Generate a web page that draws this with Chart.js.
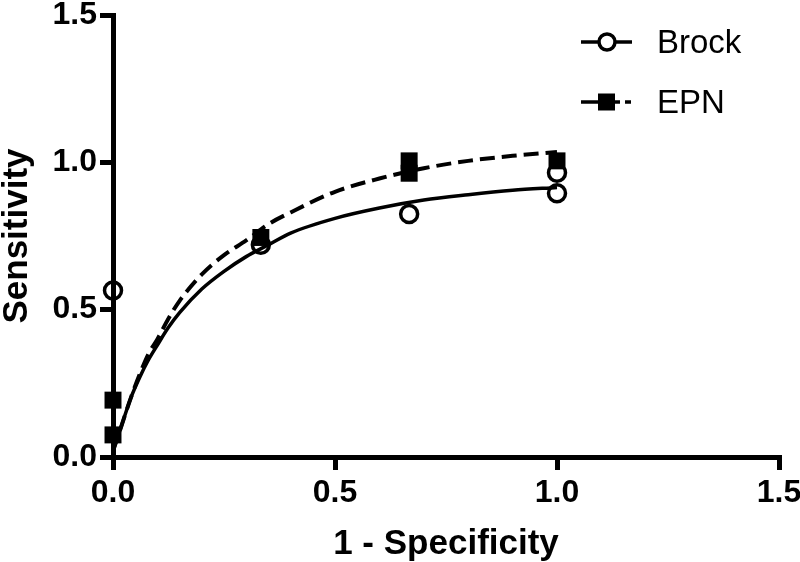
<!DOCTYPE html>
<html>
<head>
<meta charset="utf-8">
<script src="https://cdn.jsdelivr.net/npm/chart.js@4.4.0/dist/chart.umd.min.js"></script>
<style>
  html, body { margin: 0; padding: 0; background: #fff; }
  #wrap { width: 800px; height: 562px; }
</style>
</head>
<body>
<div id="wrap"><canvas id="c" width="800" height="562"></canvas></div>
<script>
// ---- data ----
const xTicks = [0.0, 0.5, 1.0, 1.5];
const yTicks = [0.0, 0.5, 1.0, 1.5];

const brockX = [0, 0.333, 0.667, 1.0, 1.0];
const brockY = [0.565, 0.72, 0.825, 0.895, 0.965];

const epnX = [0, 0, 0.333, 0.667, 0.667, 1.0];
const epnY = [0.075, 0.193, 0.745, 0.963, 1.005, 1.005];

// fitted curves
const fitX      = [0, 0.02, 0.04, 0.06, 0.08, 0.10, 0.125, 0.15, 0.20, 0.25, 0.30, 0.35, 0.40, 0.50, 0.60, 0.70, 0.80, 0.90, 1.00];
const brockFitY = [0.02, 0.11, 0.20, 0.27, 0.33, 0.38, 0.44, 0.49, 0.57, 0.63, 0.68, 0.72, 0.76, 0.81, 0.845, 0.872, 0.89, 0.905, 0.915];
const epnFitY   = [0.02, 0.11, 0.20, 0.28, 0.35, 0.40, 0.47, 0.53, 0.62, 0.685, 0.735, 0.79, 0.83, 0.90, 0.945, 0.98, 1.005, 1.022, 1.035];

const seriesNames = ['Brock', 'EPN'];
const xTitle = '1 - Specificity';
const yTitle = 'Sensitivity';

const FONT = "'Liberation Sans', Arial, Helvetica, sans-serif";
const toPts = (xs, ys) => xs.map((x, i) => ({ x: x, y: ys[i] }));

const legendPlugin = {
  id: 'customLegend',
  afterDraw(chart) {
    const ctx = chart.ctx;
    const items = [
      { label: seriesNames[0], y: 42, style: 'circle' },
      { label: seriesNames[1], y: 102, style: 'rect' }
    ];
    ctx.save();
    items.forEach(it => {
      ctx.strokeStyle = '#000';
      ctx.fillStyle = '#000';
      ctx.lineWidth = 3.5;
      ctx.beginPath();
      if (it.style === 'circle') {
        ctx.moveTo(581, it.y); ctx.lineTo(632, it.y);
      } else {
        ctx.moveTo(581, it.y); ctx.lineTo(598, it.y);
        ctx.moveTo(615, it.y); ctx.lineTo(620, it.y);
        ctx.moveTo(625, it.y); ctx.lineTo(631, it.y);
      }
      ctx.stroke();
      if (it.style === 'circle') {
        ctx.beginPath();
        ctx.lineWidth = 3.5;
        ctx.fillStyle = '#fff';
        ctx.arc(607, it.y, 8, 0, Math.PI * 2);
        ctx.fill();
        ctx.stroke();
      } else {
        ctx.fillStyle = '#000';
        ctx.fillRect(598, it.y - 8.5, 17, 17);
      }
      ctx.fillStyle = '#000';
      ctx.font = "33px " + FONT;
      ctx.textBaseline = 'alphabetic';
      ctx.textAlign = 'left';
      ctx.fillText(it.label, 657, it.y + 11);
    });
    ctx.restore();
  }
};

new Chart(document.getElementById('c'), {
  type: 'scatter',
  data: {
    datasets: [
      {
        label: seriesNames[0],
        data: toPts(brockX, brockY),
        pointStyle: 'circle',
        pointRadius: 8.5,
        pointBorderWidth: 3.5,
        borderColor: '#000',
        backgroundColor: 'rgba(0,0,0,0)',
        showLine: false,
        clip: false
      },
      {
        label: seriesNames[1],
        data: toPts(epnX, epnY),
        pointStyle: 'rect',
        pointRadius: 12,
        pointBorderWidth: 0,
        borderColor: '#000',
        backgroundColor: '#000',
        showLine: false,
        clip: false
      },
      {
        label: seriesNames[0] + ' fit',
        data: toPts(fitX, brockFitY),
        showLine: true,
        pointRadius: 0,
        borderColor: '#000',
        borderWidth: 3.5,
        cubicInterpolationMode: 'monotone',
        fill: false
      },
      {
        label: seriesNames[1] + ' fit',
        data: toPts(fitX, epnFitY),
        showLine: true,
        pointRadius: 0,
        borderColor: '#000',
        borderWidth: 4,
        borderDash: [15, 7],
        cubicInterpolationMode: 'monotone',
        fill: false
      }
    ]
  },
  options: {
    responsive: false,
    animation: false,
    devicePixelRatio: 1,
    layout: { padding: { top: 15, right: 21, left: 0, bottom: 0 } },
    plugins: {
      legend: { display: false },
      tooltip: { enabled: false }
    },
    scales: {
      x: {
        type: 'linear',
        min: xTicks[0],
        max: xTicks[xTicks.length - 1],
        afterBuildTicks(scale) { scale.ticks = xTicks.map(v => ({ value: v })); },
        afterFit(scale) { scale.height = 105; scale.paddingLeft = 0; scale.paddingRight = 0; },
        grid: { display: true, drawOnChartArea: false, drawTicks: true, tickLength: 13, lineWidth: 5, color: '#000' },
        border: { display: true, width: 5, color: '#000' },
        ticks: {
          color: '#000',
          padding: 4,
          maxRotation: 0,
          font: { family: FONT, size: 32, weight: 'bold' },
          callback: v => Number(v).toFixed(1)
        },
        title: {
          display: true,
          text: xTitle,
          color: '#000',
          padding: 0,
          font: { family: FONT, size: 35, weight: 'bold', lineHeight: 1 }
        }
      },
      y: {
        type: 'linear',
        min: yTicks[0],
        max: yTicks[yTicks.length - 1],
        afterBuildTicks(scale) { scale.ticks = yTicks.map(v => ({ value: v })); },
        afterFit(scale) { scale.width = 113; scale.paddingTop = 0; scale.paddingBottom = 0; },
        grid: { display: true, drawOnChartArea: false, drawTicks: true, tickLength: 13, lineWidth: 5, color: '#000' },
        border: { display: true, width: 5, color: '#000' },
        ticks: {
          color: '#000',
          padding: 3,
          font: { family: FONT, size: 32, weight: 'bold' },
          callback: v => Number(v).toFixed(1)
        },
        title: {
          display: true,
          text: yTitle,
          color: '#000',
          padding: 0,
          font: { family: FONT, size: 35, weight: 'bold', lineHeight: 1 }
        }
      }
    }
  },
  plugins: [legendPlugin]
});
</script>
</body>
</html>
